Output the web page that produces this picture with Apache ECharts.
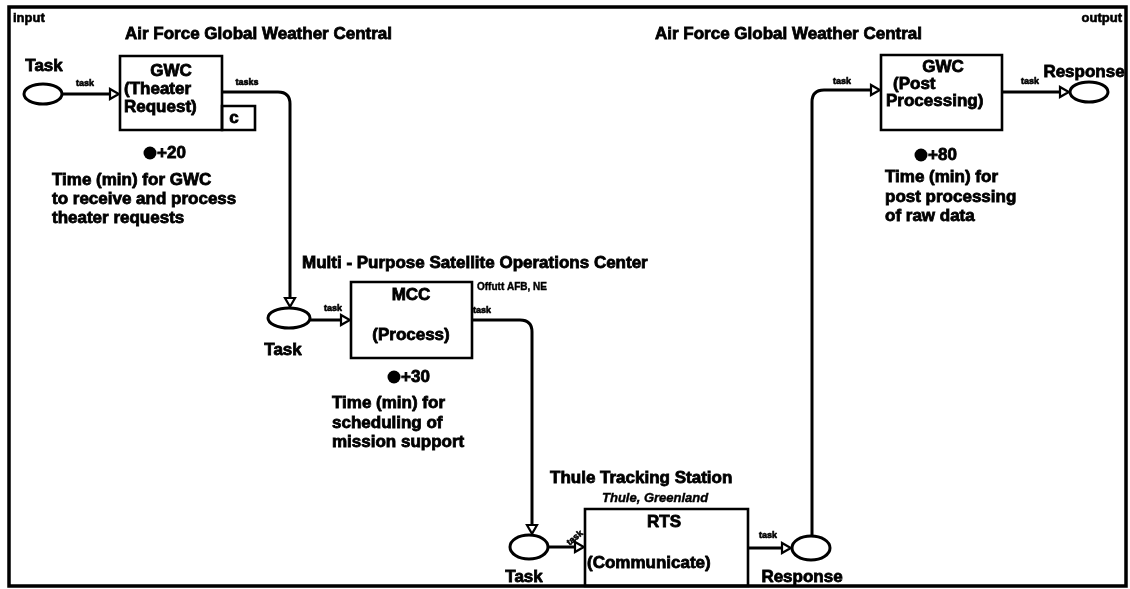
<!DOCTYPE html>
<html><head><meta charset="utf-8">
<script src="https://cdn.jsdelivr.net/npm/echarts@6/dist/echarts.min.js"></script>
<style>html,body{margin:0;padding:0;background:#fff}#c{width:1130px;height:589px}</style>
</head><body><div id="c"></div>
<script>
// ---- Diagram data (diagram units: x 0..1130, y 0..589 downward) ----
const frame = [[9, 7, 1126, 586]];
const transitionNames = ['GWC (Theater Request)', 'MCC (Process)', 'RTS (Communicate)', 'GWC (Post Processing)'];
const transitionBoxes = [[120, 56, 222, 130], [351, 282, 472, 358], [585, 509, 748, 586], [881, 55, 1002, 130]];
const subBoxes = [[222, 106, 255, 130]];
const placeNames = ['Task', 'Task', 'Task', 'Response', 'Response'];
const placeCenters = [[43, 94], [289, 318], [529, 547], [811, 548], [1089, 92]];
const placeRadii = [[19, 10], [21, 10], [19, 12], [19, 12], [19, 10]];
const arcPaths = [
  [[62, 94], [120, 94]],
  [[222, 92], [290, 92], [290, 308]],
  [[310, 320], [351, 320]],
  [[472, 320], [532, 320], [532, 535]],
  [[548, 547], [585, 547]],
  [[748, 548], [792, 548]],
  [[812, 536], [812, 90], [881, 90]],
  [[1002, 92], [1070, 92]]
];
const arcLabels = [
  [85, 84, 'task', 0], [247, 83, 'tasks', 0], [333, 309, 'task', 0], [482, 311, 'task', 0],
  [575, 538, 'task', 0.7], [768, 536, 'task', 0], [842, 82, 'task', 0], [1030, 82, 'task', 0]
];
const tokens = [[150, 153, '+20'], [394, 377, '+30'], [921, 155, '+80']];
const texts = [
  [13, 18, 'input', 'M', 'left'],
  [1122, 18, 'output', 'M', 'right'],
  [125, 34, 'Air Force Global Weather Central', 'L', 'left'],
  [655, 34, 'Air Force Global Weather Central', 'L', 'left'],
  [44, 66, 'Task', 'L', 'center'],
  [171, 71, 'GWC', 'L', 'center'],
  [124, 89, '(Theater', 'L', 'left'],
  [124, 107, 'Request)', 'L', 'left'],
  [234, 118, 'c', 'L', 'center'],
  [52, 180, 'Time (min) for GWC', 'L', 'left'],
  [52, 199, 'to receive and process', 'L', 'left'],
  [52, 218, 'theater requests', 'L', 'left'],
  [302, 263, 'Multi - Purpose Satellite Operations Center', 'L', 'left'],
  [411, 295, 'MCC', 'L', 'center'],
  [411, 335, '(Process)', 'L', 'center'],
  [477, 287, 'Offutt AFB, NE', 'N', 'left'],
  [283, 350, 'Task', 'L', 'center'],
  [332, 403, 'Time (min) for', 'L', 'left'],
  [332, 423, 'scheduling of', 'L', 'left'],
  [332, 442, 'mission support', 'L', 'left'],
  [550, 478, 'Thule Tracking Station', 'L', 'left'],
  [602, 498, 'Thule, Greenland', 'I', 'left'],
  [664, 522, 'RTS', 'L', 'center'],
  [587, 563, '(Communicate)', 'L', 'left'],
  [524, 577, 'Task', 'L', 'center'],
  [802, 577, 'Response', 'L', 'center'],
  [943, 67, 'GWC', 'L', 'center'],
  [893, 84, '(Post', 'L', 'left'],
  [886, 101, 'Processing)', 'L', 'left'],
  [1084, 72, 'Response', 'L', 'center'],
  [885, 177, 'Time (min) for', 'L', 'left'],
  [885, 197, 'post processing', 'L', 'left'],
  [885, 216, 'of raw data', 'L', 'left']
];

// ---- styles ----
const FAMILY = '"Liberation Sans", Arial, Helvetica, sans-serif';
const textStyles = {
  L: { font: 'bold 17px ' + FAMILY, w: 0.8 },
  M: { font: 'bold 13px ' + FAMILY, w: 0.6 },
  N: { font: 'bold 10px ' + FAMILY, w: 0.4 },
  I: { font: 'italic bold 13px ' + FAMILY, w: 0.4 },
  S: { font: 'bold 9px ' + FAMILY, w: 0.6 }
};
const INK = '#000';

function txt(x, y, s, st, align, rot) {
  return {
    type: 'text', x: x, y: y, rotation: rot || 0,
    style: { text: s, font: st.font, fill: INK, stroke: INK, lineWidth: st.w,
      align: align, textAlign: align, verticalAlign: 'middle', textVerticalAlign: 'middle' }
  };
}

function rectSeries(list, lw) {
  return {
    type: 'custom', coordinateSystem: 'cartesian2d', silent: true,
    data: list.map(b => [b[0], b[1], b[2], b[3]]),
    renderItem: function (params, api) {
      const p1 = api.coord([api.value(0), api.value(1)]);
      const p2 = api.coord([api.value(2), api.value(3)]);
      return { type: 'rect', shape: { x: p1[0], y: p1[1], width: p2[0] - p1[0], height: p2[1] - p1[1] },
        style: { fill: 'none', stroke: INK, lineWidth: lw } };
    }
  };
}

const option = {
  animation: false,
  backgroundColor: '#fff',
  grid: { left: 0, right: 0, top: 0, bottom: 0 },
  xAxis: { type: 'value', min: 0, max: 1130, show: false },
  yAxis: { type: 'value', min: 0, max: 589, inverse: true, show: false },
  series: [
    rectSeries(frame, 3.5),
    rectSeries(transitionBoxes, 2.6),
    rectSeries(subBoxes, 2.6),
    { // places
      type: 'custom', coordinateSystem: 'cartesian2d', silent: true,
      data: placeCenters.map((c, i) => [c[0], c[1], placeRadii[i][0], placeRadii[i][1], placeNames[i]]),
      renderItem: function (params, api) {
        const c = api.coord([api.value(0), api.value(1)]);
        const e = api.coord([api.value(0) + api.value(2), api.value(1) + api.value(3)]);
        return { type: 'ellipse', shape: { cx: c[0], cy: c[1], rx: e[0] - c[0], ry: e[1] - c[1] },
          style: { fill: '#fff', stroke: INK, lineWidth: 3 } };
      }
    },
    { // arcs
      type: 'custom', coordinateSystem: 'cartesian2d', silent: true,
      data: arcPaths.map(p => p[0]),
      renderItem: function (params, api) {
        const pts = arcPaths[params.dataIndex].map(p => api.coord(p));
        const children = [];
        const r = 12, AL = 10, AW = 5;
        const unit = (a, b) => { const dx = b[0] - a[0], dy = b[1] - a[1]; const L = Math.hypot(dx, dy); return [dx / L, dy / L]; };
        let s = pts[0];
        const ls = { stroke: INK, lineWidth: 3, fill: 'none' };
        for (let i = 1; i < pts.length - 1; i++) {
          const d1 = unit(pts[i - 1], pts[i]), d2 = unit(pts[i], pts[i + 1]);
          const a = [pts[i][0] - d1[0] * r, pts[i][1] - d1[1] * r];
          const b = [pts[i][0] + d2[0] * r, pts[i][1] + d2[1] * r];
          children.push({ type: 'line', shape: { x1: s[0], y1: s[1], x2: a[0], y2: a[1] }, style: ls });
          children.push({ type: 'bezierCurve', shape: { x1: a[0], y1: a[1], cpx1: pts[i][0], cpy1: pts[i][1], x2: b[0], y2: b[1] }, style: ls });
          s = b;
        }
        const end = pts[pts.length - 1];
        const d = unit(pts[pts.length - 2], end);
        const base = [end[0] - d[0] * AL, end[1] - d[1] * AL];
        children.push({ type: 'line', shape: { x1: s[0], y1: s[1], x2: base[0], y2: base[1] }, style: ls });
        const nx = -d[1], ny = d[0];
        children.push({ type: 'polygon', shape: { points: [
          [end[0] - d[0] * 1.2, end[1] - d[1] * 1.2],
          [base[0] + nx * AW, base[1] + ny * AW],
          [base[0] - nx * AW, base[1] - ny * AW]] },
          style: { fill: '#fff', stroke: INK, lineWidth: 2.2 } });
        return { type: 'group', children: children };
      }
    },
    { // arc inscriptions
      type: 'custom', coordinateSystem: 'cartesian2d', silent: true,
      data: arcLabels.map(l => [l[0], l[1]]),
      renderItem: function (params, api) {
        const l = arcLabels[params.dataIndex];
        const p = api.coord([api.value(0), api.value(1)]);
        return txt(p[0], p[1], l[2], textStyles.S, 'center', l[3]);
      }
    },
    { // time tokens
      type: 'custom', coordinateSystem: 'cartesian2d', silent: true,
      data: tokens.map(t => [t[0], t[1]]),
      renderItem: function (params, api) {
        const t = tokens[params.dataIndex];
        const p = api.coord([api.value(0), api.value(1)]);
        return { type: 'group', children: [
          { type: 'circle', shape: { cx: p[0], cy: p[1], r: 6.5 }, style: { fill: INK } },
          txt(p[0] + 7, p[1], t[2], textStyles.L, 'left', 0)
        ] };
      }
    },
    { // texts
      type: 'custom', coordinateSystem: 'cartesian2d', silent: true,
      data: texts.map(t => [t[0], t[1]]),
      renderItem: function (params, api) {
        const t = texts[params.dataIndex];
        const p = api.coord([api.value(0), api.value(1)]);
        return txt(p[0], p[1], t[2], textStyles[t[3]], t[4], 0);
      }
    }
  ]
};
const chart = echarts.init(document.getElementById('c'), null, { renderer: 'canvas' });
chart.setOption(option);
</script></body></html>
